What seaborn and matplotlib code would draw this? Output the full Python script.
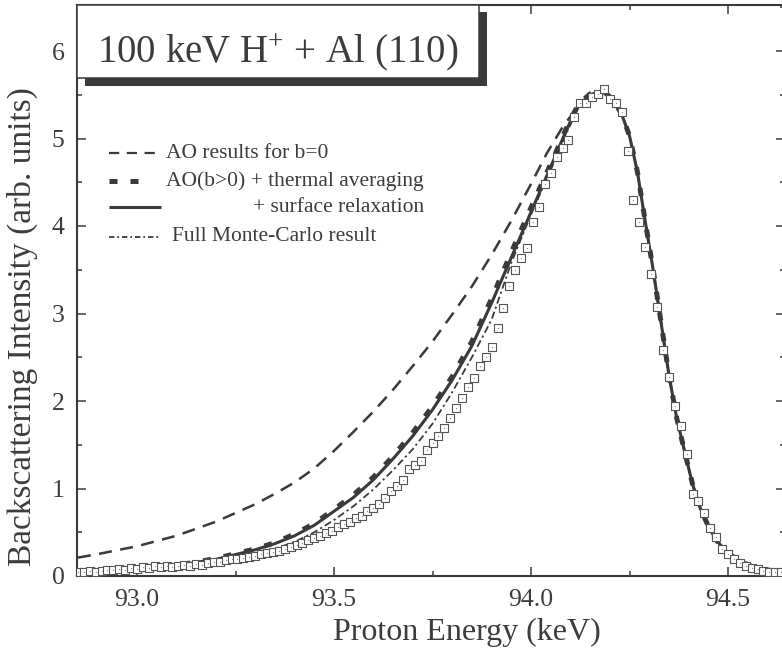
import numpy as np
import pandas as pd
import matplotlib
matplotlib.use("Agg")
import matplotlib.pyplot as plt
import seaborn as sns
from matplotlib.patches import Rectangle
from matplotlib.ticker import MultipleLocator, FormatStrFormatter

# ---- measured backscattering spectrum (open squares), 15 eV channels ----
energy_exp = np.round(92.85 + 0.015 * np.arange(120), 3)
intensity_exp = [
    0.05, 0.05, 0.06, 0.05, 0.06, 0.07, 0.07, 0.08, 0.07, 0.09,
    0.08, 0.10, 0.09, 0.12, 0.10, 0.11, 0.10, 0.12, 0.13, 0.12,
    0.14, 0.13, 0.15, 0.16, 0.16, 0.18, 0.19, 0.19, 0.21, 0.22,
    0.23, 0.25, 0.26, 0.28, 0.29, 0.31, 0.33, 0.36, 0.38, 0.41,
    0.43, 0.46, 0.49, 0.51, 0.56, 0.59, 0.62, 0.66, 0.69, 0.74,
    0.78, 0.82, 0.89, 0.97, 1.03, 1.10, 1.22, 1.27, 1.32, 1.44,
    1.52, 1.60, 1.69, 1.81, 1.92, 2.04, 2.16, 2.26, 2.40, 2.50,
    2.62, 2.84, 3.06, 3.32, 3.50, 3.63, 3.75, 4.05, 4.22, 4.48,
    4.61, 4.79, 4.89, 4.98, 5.25, 5.40, 5.40, 5.47, 5.51, 5.57,
    5.45, 5.41, 5.30, 4.86, 4.30, 4.05, 3.76, 3.45, 3.07, 2.58,
    2.27, 1.94, 1.72, 1.40, 0.94, 0.86, 0.72, 0.55, 0.45, 0.31,
    0.25, 0.19, 0.15, 0.11, 0.09, 0.08, 0.06, 0.05, 0.05, 0.05,
]

# ---- calculated spectra ----
energy_calc = [92.85, 92.90, 93.00, 93.10, 93.20, 93.30, 93.35, 93.40, 93.45, 93.50,
               93.55, 93.60, 93.65, 93.70, 93.75, 93.80, 93.85, 93.90, 93.95, 94.00,
               94.03, 94.06, 94.09, 94.12, 94.15, 94.17, 94.19, 94.21, 94.23, 94.25,
               94.27, 94.29, 94.31, 94.33, 94.35, 94.37, 94.39, 94.41, 94.43, 94.45,
               94.47, 94.50, 94.53, 94.56, 94.60, 94.64]
falling_edge = [5.53, 5.52, 5.43, 5.28, 5.03, 4.62, 4.05, 3.50, 2.90, 2.30,
                1.80, 1.42, 1.05, 0.77, 0.57, 0.41, 0.26, 0.17, 0.11, 0.07, 0.04]
intensity_relax = [0.03, 0.04, 0.07, 0.12, 0.19, 0.30, 0.37, 0.46, 0.58, 0.74,
                   0.90, 1.10, 1.34, 1.60, 1.90, 2.24, 2.63, 3.12, 3.64, 4.16,
                   4.47, 4.78, 5.10, 5.38, 5.50] + falling_edge
intensity_thermal = [0.03, 0.04, 0.07, 0.12, 0.20, 0.31, 0.38, 0.48, 0.60, 0.76,
                     0.93, 1.13, 1.37, 1.64, 1.94, 2.28, 2.68, 3.17, 3.70, 4.21,
                     4.51, 4.81, 5.12, 5.39, 5.51] + falling_edge
intensity_mc = [0.03, 0.04, 0.06, 0.10, 0.16, 0.25, 0.31, 0.39, 0.50, 0.64,
                0.80, 0.99, 1.21, 1.45, 1.74, 2.10, 2.50, 2.93, 3.58, 4.13,
                4.44, 4.74, 5.06, 5.35, 5.49] + falling_edge

energy_b0 = [92.85, 92.90, 93.00, 93.10, 93.20, 93.30, 93.35, 93.40, 93.45, 93.50,
             93.55, 93.60, 93.65, 93.70, 93.75, 93.80, 93.85, 93.90, 93.95, 94.00,
             94.04, 94.08, 94.12, 94.15] + energy_calc[25:]
intensity_b0 = [0.21, 0.25, 0.34, 0.46, 0.62, 0.82, 0.94, 1.07, 1.23, 1.43,
                1.65, 1.88, 2.13, 2.40, 2.68, 2.99, 3.31, 3.67, 4.06, 4.48,
                4.83, 5.13, 5.37, 5.49] + falling_edge

legend_labels = ["AO results for b=0",
                 "AO(b>0) + thermal averaging",
                 "+ surface relaxation",
                 "Full Monte-Carlo result"]
title_text = "100 keV H$^{+}$ + Al (110)"
x_ticks = [93.0, 93.5, 94.0, 94.5]
y_ticks = [0, 1, 2, 3, 4, 5, 6]

ink = "#3a3a3a"
text_col = "#3c3c3c"

sns.set_theme(style="ticks")
plt.rcParams["font.family"] = ["Liberation Serif", "DejaVu Serif"]
plt.rcParams["mathtext.fontset"] = "custom"
plt.rcParams["mathtext.rm"] = "Liberation Serif"
plt.rcParams["mathtext.it"] = "Liberation Serif:italic"

W, H = 782, 652
fig = plt.figure(figsize=(W / 100, H / 100), dpi=100, facecolor="white")
ax_l, ax_r, ax_b, ax_t = 77, 785, 576, 5
ax = fig.add_axes([ax_l / W, (H - ax_b) / H, (ax_r - ax_l) / W, (ax_b - ax_t) / H])
ax.set_facecolor("white")

df_b0 = pd.DataFrame({"E": energy_b0, "I": intensity_b0})
df_calc = pd.DataFrame({"E": energy_calc, "relax": intensity_relax,
                        "thermal": intensity_thermal, "mc": intensity_mc})
df_exp = pd.DataFrame({"E": energy_exp, "I": intensity_exp})

sns.lineplot(data=df_b0, x="E", y="I", ax=ax, color=ink, lw=1.8,
             linestyle=(0, (5.2, 3.4)), estimator=None, sort=False, zorder=3)
sns.lineplot(data=df_calc, x="E", y="relax", ax=ax, color=ink, lw=2.2,
             estimator=None, sort=False, zorder=3)
sns.lineplot(data=df_calc, x="E", y="thermal", ax=ax, color=ink, lw=3.6,
             linestyle=(0, (1.6, 2.6)), estimator=None, sort=False, zorder=3)
sns.lineplot(data=df_calc, x="E", y="mc", ax=ax, color=ink, lw=1.3,
             linestyle=(0, (4.0, 1.8, 1.2, 1.8)), estimator=None, sort=False, zorder=3)

sns.scatterplot(data=df_exp, x="E", y="I", ax=ax, marker="s", s=28,
                facecolor="white", edgecolor="#555555", linewidth=0.8, zorder=4)
sns.scatterplot(data=df_exp, x="E", y="I", ax=ax, marker="o", s=0.8,
                color="#888888", linewidth=0, zorder=5)

ax.set_xlim(92.8477, 92.8477 + (ax_r - ax_l) / 394.0)
ax.set_ylim(0, (ax_b - ax_t) / 87.5)
ax.set_xticks(x_ticks)
ax.set_yticks(y_ticks)
ax.xaxis.set_major_formatter(FormatStrFormatter("%.1f"))
ax.xaxis.set_minor_locator(MultipleLocator(0.25))
ax.yaxis.set_minor_locator(MultipleLocator(0.5))
ax.tick_params(which="both", direction="in", top=True, right=True,
               color=ink, width=1.1, labelcolor=text_col, labelsize=18.5, pad=9)
ax.tick_params(which="major", length=6.5)
ax.tick_params(which="minor", length=3.6)
for sp in ax.spines.values():
    sp.set_color(ink)
    sp.set_linewidth(1.5)
ax.set_xlabel("")
ax.set_ylabel("")

fig.text(467 / W, 1 - 632 / H, "Proton Energy (keV)", ha="center", va="center",
         fontsize=23, color=text_col)
fig.text(22 / W, 1 - 327 / H, "Backscattering Intensity (arb. units)", ha="center",
         va="center", rotation=90, fontsize=24, color=text_col)

# title box with drop shadow
def to_ax(px, py):
    return ((px - ax_l) / (ax_r - ax_l), (ax_b - py) / (ax_b - ax_t))

sx0, sy0 = to_ax(85, 86)
sx1, sy1 = to_ax(487, 12)
ax.add_patch(Rectangle((sx0, sy0), sx1 - sx0, sy1 - sy0, transform=ax.transAxes,
                       facecolor=ink, edgecolor="none", zorder=8, clip_on=False))
bx0, by0 = to_ax(77, 78)
bx1, by1 = to_ax(479, 5)
ax.add_patch(Rectangle((bx0, by0), bx1 - bx0, by1 - by0, transform=ax.transAxes,
                       facecolor="white", edgecolor=ink, linewidth=1.1, zorder=9,
                       clip_on=False))
tx, ty = to_ax(97, 62)
ax.text(tx, ty, title_text, transform=ax.transAxes, fontsize=28, color=text_col,
        ha="left", va="baseline", zorder=10)

# legend
rows_y = [153, 181, 207, 237]
text_x = [166, 166, 253, 172]
handle_styles = [
    dict(lw=1.6, linestyle=(0, (4.6, 3.4))),
    dict(lw=3.6, linestyle=(0, (1.6, 2.6))),
    dict(lw=2.2, linestyle="-"),
    dict(lw=1.3, linestyle=(0, (3.0, 1.6, 1.0, 1.6))),
]
handle_ends = [158, 143, 161, 160]
for lab, yy, xx, st, xe in zip(legend_labels, rows_y, text_x, handle_styles, handle_ends):
    hx0, hy = to_ax(109, yy)
    hx1, _ = to_ax(xe, yy)
    ax.plot([hx0, hx1], [hy, hy], transform=ax.transAxes, color=ink,
            solid_capstyle="butt", dash_capstyle="butt", zorder=6, **st)
    lx, _ = to_ax(xx, yy)
    ax.text(lx, hy, lab, transform=ax.transAxes, fontsize=15.5, color=text_col,
            ha="left", va="center", zorder=6)

fig.savefig("out.png", dpi=100, facecolor="white")
